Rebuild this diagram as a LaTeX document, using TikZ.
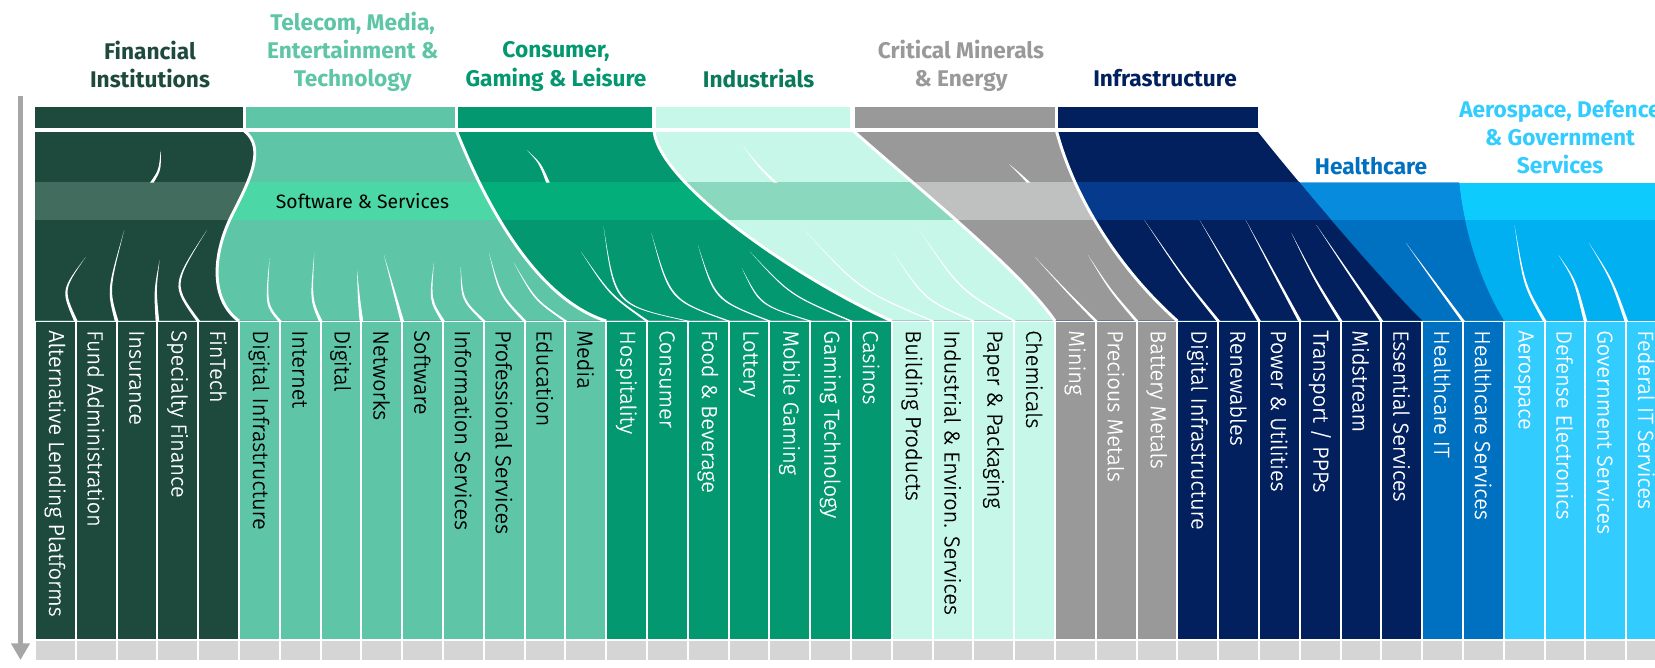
\documentclass[tikz,border=0pt]{standalone}
\usepackage{fontspec}
\setmainfont{Fira Sans}
\newfontfamily\lightfont{Fira Sans Light}[FakeBold=0.6]
\usetikzlibrary{arrows.meta}
\definecolor{finC}{HTML}{1E4A3E}\definecolor{finB}{HTML}{426C5E}
\definecolor{tmtC}{HTML}{5EC6A6}\definecolor{tmtB}{HTML}{4CD8A6}
\definecolor{conC}{HTML}{039870}\definecolor{conB}{HTML}{04AE7A}
\definecolor{indC}{HTML}{C6F7E8}\definecolor{indB}{HTML}{8AD8BD}
\definecolor{crtC}{HTML}{999999}\definecolor{crtB}{HTML}{BFC1C0}
\definecolor{infC}{HTML}{03205E}\definecolor{infB}{HTML}{053A8C}
\definecolor{hcC}{HTML}{0070C0}\definecolor{hcB}{HTML}{078BDD}
\definecolor{aeC}{HTML}{00B0F0}\definecolor{aeB}{HTML}{0ECBFD}
\definecolor{aeCol}{HTML}{33CCFF}
\definecolor{indT}{HTML}{0A7A5A}
\definecolor{stripC}{HTML}{D5D5D5}
\definecolor{arrowC}{HTML}{A6A6A6}
\tikzset{
  head/.style={font=\bfseries\fontsize{17pt}{21.2pt}\selectfont, align=center, inner sep=0pt},
  collab/.style={font=\lightfont\fontsize{16.3pt}{18pt}\selectfont, inner sep=0pt, rotate=-90, anchor=west},
  bound/.style={white, line width=2.2pt},
}
\newcommand\taper[6]{\fill[white] (#1,#2) .. controls ({#3-1.1},#4) .. ({#5-1.8},#6) -- ({#5+1.8},#6) .. controls ({#3+1.1},#4) .. (#1,#2) -- cycle;}
\def\pAe{(35,182.7) -- (1660,182.7) -- (1660,320.5) -- (35,320.5) -- cycle}
\def\pHC{(35,182.7) -- (1459,182.7) .. controls (1465,240) and (1485,290) .. (1503.8,320.5) -- (35,320.5) -- cycle}
\def\pInf{(35,132) -- (1258,132) .. controls (1300,185) and (1390,290) .. (1422.2,320.5) -- (35,320.5) -- cycle}
\def\pCrt{(35,132) -- (1056.5,132) .. controls (1075,200) and (1120,270) .. (1177.4,320.5) -- (35,320.5) -- cycle}
\def\pInd{(35,132) -- (853.5,132) .. controls (920,190) and (1020,270) .. (1055,320.5) -- (35,320.5) -- cycle}
\def\pCon{(35,132) -- (654,132) .. controls (660,185) and (800,280) .. (891.8,320.5) -- (35,320.5) -- cycle}
\def\pTmt{(35,132) -- (456.5,132) .. controls (490,215) and (540,300) .. (606.2,320.5) -- (35,320.5) -- cycle}
\def\pFin{(35,132) -- (244.5,132) .. controls (266,148) and (250,180) .. (232,215) .. controls (212,255) and (210,300) .. (239,320.5) -- (35,320.5) -- cycle}
\newcommand\region[3]{\fill[#2] #1; \begin{scope}\clip (0,182.7) rectangle (1660,219.8); \fill[#3] #1; \end{scope}}
\begin{document}
\begin{tikzpicture}[x=0.75pt, y=-0.75pt]
\useasboundingbox (0,0) rectangle (1655,667);
\fill[white] (0,0) rectangle (1655,667);
% top bars
\fill[finC] (35,107.3) rectangle (242.9,128.3);
\fill[tmtC] (246.4,107.3) rectangle (455.4,128.3);
\fill[conC] (457.9,107.3) rectangle (651.8,128.3);
\fill[indC] (656,107.3) rectangle (850,128.3);
\fill[crtC] (855,107.3) rectangle (1055,128.3);
\fill[infC] (1057.9,107.3) rectangle (1258,128.3);
% flow regions, right to left
\region{\pAe}{aeC}{aeB}
\region{\pHC}{hcC}{hcB}
\region{\pInf}{infC}{infB}
\region{\pCrt}{crtC}{crtB}
\region{\pInd}{indC}{indB}
\region{\pCon}{conC}{conB}
\region{\pTmt}{tmtC}{tmtB}
\region{\pFin}{finC}{finB}
% thin flow lines
\taper{160.7}{150}{160}{170}{151.8}{182.7}
\taper{85.7}{257}{62}{290}{75.8}{321}
\taper{124.3}{230}{108}{290}{116.6}{321}
\taper{159.6}{260}{155}{290}{157.4}{321}
\taper{207}{230}{172}{285}{198.2}{321}
\taper{269.6}{258}{266}{305}{279.8}{321}
\taper{314.3}{253}{311}{300}{320.6}{321}
\taper{357}{270}{359}{300}{361.4}{321}
\taper{384}{255}{395}{295}{402.2}{321}
\taper{434}{262}{430}{300}{443}{321}
\taper{460.7}{267}{462}{300}{483.8}{321}
\taper{489}{253}{500}{295}{524.6}{321}
\taper{514}{263}{535}{300}{565.4}{321}
\taper{526.8}{150}{540}{163}{548}{182.7}
\taper{581}{251.7}{610}{295}{647}{321}
\taper{603.6}{226.7}{615}{305}{687.8}{321}
\taper{651.4}{233}{670}{300}{728.6}{321}
\taper{697.9}{245}{715}{300}{769.4}{321}
\taper{741.8}{268}{760}{305}{810.2}{321}
\taper{750}{251.7}{790}{295}{851}{321}
\taper{742.9}{145.7}{760}{168}{775.7}{182.7}
\taper{804.3}{230}{860}{290}{932.6}{321}
\taper{893.6}{253}{925}{300}{973.4}{321}
\taper{919.3}{230}{960}{290}{1014.2}{321}
\taper{1009}{164}{1020}{174}{1028.6}{182.7}
\taper{1034.6}{256.7}{1070}{295}{1095.8}{321}
\taper{1088}{255}{1110}{290}{1136.6}{321}
\taper{1144.3}{220}{1185}{280}{1218.2}{321}
\taper{1199.6}{220}{1232}{275}{1259}{321}
\taper{1245.7}{220}{1275}{275}{1299.8}{321}
\taper{1291.4}{233}{1315}{280}{1340.6}{321}
\taper{1316.4}{225}{1350}{275}{1381.4}{321}
\taper{1406}{243}{1435}{283}{1463}{321}
\taper{1514.5}{225}{1524}{285}{1544.6}{321}
\taper{1558.5}{255}{1575}{280}{1585.4}{321}
\taper{1589}{243}{1612}{280}{1626.2}{321}
% sector boundaries
\draw[bound] (244.5,131) .. controls (266,148) and (250,180) .. (232,215) .. controls (212,255) and (210,300) .. (239,321);
\draw[bound] (456.5,131) .. controls (490,215) and (540,300) .. (606.2,321);
\draw[bound] (654,131) .. controls (660,185) and (800,280) .. (891.8,321);
\draw[bound] (853.5,131) .. controls (920,190) and (1020,270) .. (1055,321);
\draw[bound] (1056.5,131) .. controls (1075,200) and (1120,270) .. (1177.4,321);
% Software & Services label
\node[font=\fontsize{14.5pt}{17pt}\selectfont, inner sep=0pt] (sws) at (362.5,201) {Software \& Services};
% columns
\foreach \lab/\fc/\tc [count=\i from 0] in {
 Alternative Lending Platforms/finC/white,
 Fund Administration/finC/white,
 Insurance/finC/white,
 Specialty Finance/finC/white,
 FinTech/finC/white,
 Digital Infrastructure/tmtC/black,
 Internet/tmtC/black,
 Digital/tmtC/black,
 Networks/tmtC/black,
 Software/tmtC/black,
 Information Services/tmtC/black,
 Professional Services/tmtC/black,
 Education/tmtC/black,
 Media/tmtC/black,
 Hospitality/conC/white,
 Consumer/conC/white,
 Food \& Beverage/conC/white,
 Lottery/conC/white,
 Mobile Gaming/conC/white,
 Gaming Technology/conC/white,
 Casinos/conC/white,
 Building Products/indC/black,
 Industrial \& Environ. Services/indC/black,
 Paper \& Packaging/indC/black,
 Chemicals/indC/black,
 Mining/crtC/white,
 Precious Metals/crtC/white,
 Battery Metals/crtC/white,
 Digital Infrastructure/infC/white,
 Renewables/infC/white,
 Power \& Utilities/infC/white,
 {Transport / PPPs}/infC/white,
 Midstream/infC/white,
 Essential Services/infC/white,
 Healthcare IT/hcC/white,
 Healthcare Services/hcC/white,
 Aerospace/aeCol/white,
 Defense Electronics/aeCol/white,
 Government Services/aeCol/white,
 Federal IT Services/aeCol/white}
{
 \fill[\fc] ({36+40.8*\i},322) rectangle ({34+40.8*(\i+1)},638.5);
 \fill[stripC] ({36+40.8*\i},641) rectangle ({34+40.8*(\i+1)},660);
 \node[collab, text=\tc] (col\i) at ({55+40.8*\i},330) {\lab};
}
% headers
\node[head, text=finC] (hFin) at (150,64.2) {Financial\\Institutions};
\node[head, text=tmtC] (hTmt) at (352.7,52) {Telecom, Media,\\Entertainment \&\\Technology};
\node[head, text=conC] (hCon) at (556,66.5) {Consumer,\\Gaming \& Leisure};
\node[head, text=indT] (hInd) at (758.6,78.3) {Industrials};
\node[head, text=crtC] (hCrt) at (961,65.5) {Critical Minerals\\\& Energy};
\node[head, text=infC] (hInf) at (1165,78.3) {Infrastructure};
\node[head, text=hcC] (hHc) at (1371,165.7) {Healthcare};
\node[head, text=aeCol] (hAe) at (1560,137.3) {Aerospace, Defence\\\& Government\\Services};
% arrow
\coordinate (arT) at (20.5,96);
\coordinate (arB) at (20.5,660);
\draw[arrowC, line width=3.8pt, -{Triangle[width=13.5pt,length=12.5pt]}] (arT) -- (arB);
\end{tikzpicture}
\end{document}
